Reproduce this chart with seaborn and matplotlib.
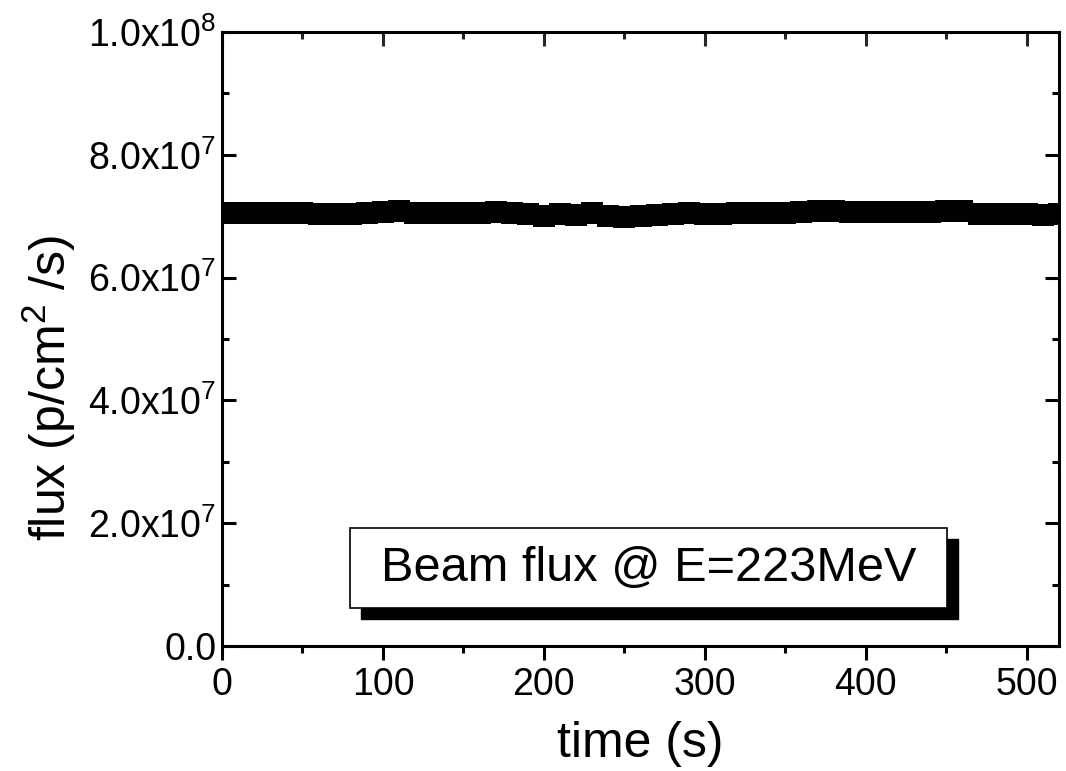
import numpy as np
import pandas as pd
import matplotlib
matplotlib.use("Agg")
import matplotlib.pyplot as plt
from matplotlib.ticker import MultipleLocator, FuncFormatter
from matplotlib.patches import Rectangle
import seaborn as sns

sns.set_theme(style="ticks")
plt.rcParams['font.family'] = ['Liberation Sans', 'DejaVu Sans']
plt.rcParams['mathtext.fontset'] = 'custom'
plt.rcParams['mathtext.rm'] = 'Liberation Sans'
plt.rcParams['mathtext.it'] = 'Liberation Sans:italic'
plt.rcParams['mathtext.bf'] = 'Liberation Sans:bold'
plt.rcParams['text.color'] = 'black'
plt.rcParams['axes.labelcolor'] = 'black'

# beam flux, in units of 1e7 p/cm2/s, every 10 s
time_s = list(range(0, 530, 10))
flux_1e7 = [7.06, 7.06, 7.05, 7.05, 7.05, 7.05, 7.04, 7.04, 7.04, 7.06,
            7.07, 7.08, 7.05, 7.05, 7.05, 7.05, 7.05, 7.07, 7.05, 7.04,
            7.00, 7.04, 7.02, 7.05, 7.01, 6.99, 7.00, 7.02, 7.04, 7.05,
            7.04, 7.04, 7.05, 7.06, 7.06, 7.06, 7.07, 7.08, 7.08, 7.07,
            7.07, 7.07, 7.07, 7.07, 7.07, 7.09, 7.09, 7.04, 7.04, 7.03,
            7.03, 7.02, 7.04]
label_text = "Beam flux @ E=223MeV"

df = pd.DataFrame({"time": time_s, "flux": np.array(flux_1e7) * 1e7})

fig = plt.figure(figsize=(10.66, 7.71), dpi=100)
ax = fig.add_axes([222 / 1066, 1 - 646 / 771, (1059 - 222) / 1066, (646 - 32) / 771])

sns.lineplot(data=df, x="time", y="flux", ax=ax, color="black",
             linewidth=14, marker="s", markersize=16, markeredgewidth=0)

ax.set_xlim(0, 520)
ax.set_ylim(0, 1e8)
ax.xaxis.set_major_locator(MultipleLocator(100))
ax.xaxis.set_minor_locator(MultipleLocator(50))
ax.yaxis.set_major_locator(MultipleLocator(2e7))
ax.yaxis.set_minor_locator(MultipleLocator(1e7))


def sci(v, pos):
    if v <= 0:
        return "0.0"
    e = int(np.floor(np.log10(v) + 1e-9))
    return r"$\mathregular{%.1fx10^{%d}}$" % (v / 10 ** e, e)


ax.yaxis.set_major_formatter(FuncFormatter(sci))

for s in ax.spines.values():
    s.set_linewidth(2.2)
    s.set_color("black")

ax.tick_params(axis="x", which="both", direction="out", top=False,
               width=2.2, colors="black", labelsize=27, pad=5)
ax.tick_params(axis="x", which="major", length=10)
ax.tick_params(axis="x", which="minor", length=5)
ax.tick_params(axis="y", which="both", direction="in", left=True, right=True,
               width=2.2, colors="black", labelsize=27, pad=4)
ax.tick_params(axis="y", which="major", length=10)
ax.tick_params(axis="y", which="minor", length=5)

top = ax.secondary_xaxis("top")
top.xaxis.set_major_locator(MultipleLocator(100))
top.xaxis.set_minor_locator(MultipleLocator(50))
top.tick_params(which="both", direction="in", labeltop=False, width=2.2)
top.tick_params(which="major", length=10)
top.tick_params(which="minor", length=5)

ax.set_xlabel("time (s)", fontsize=36, labelpad=13)
ax.set_ylabel(r"flux (p/cm$\mathregular{^{2}}$ /s)", fontsize=36)
ax.yaxis.set_label_coords(-0.172, 0.42)

# text box with drop shadow, placed in pixel-derived axes fractions
bx0, bx1 = (350 - 222) / 837, (947 - 222) / 837
by0, by1 = (646 - 608) / 614, (646 - 528) / 614
dx, dy = 11 / 837, 11 / 614
ax.add_patch(Rectangle((bx0 + dx, by0 - dy), bx1 - bx0, by1 - by0,
                       transform=ax.transAxes, facecolor="black",
                       edgecolor="black", zorder=4))
ax.add_patch(Rectangle((bx0, by0), bx1 - bx0, by1 - by0,
                       transform=ax.transAxes, facecolor="white",
                       edgecolor="black", linewidth=1.2, zorder=5))
ax.text((bx0 + bx1) / 2, (by0 + by1) / 2, label_text, transform=ax.transAxes,
        ha="center", va="center", fontsize=35, color="black", zorder=6)

fig.savefig("out.png", dpi=100)
